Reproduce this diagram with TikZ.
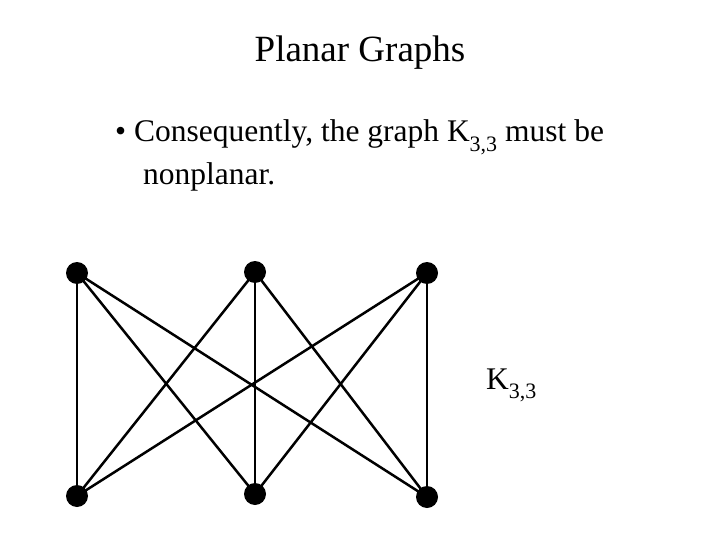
\documentclass[tikz,border=0pt]{standalone}
\usepackage{fontspec}
\setmainfont{Liberation Serif}
\newcommand{\lowsub}[1]{\raisebox{-0.3em}{\fontsize{22}{24}\selectfont #1}}
\begin{document}
\begin{tikzpicture}[x=1pt,y=-1pt,
  vtx/.style={circle,fill=black,inner sep=0pt,minimum size=22pt},
  edge/.style={line width=2.5pt}]
\useasboundingbox (0,0) rectangle (720,540);
\node[anchor=base] (title) at (360,62) {\fontsize{37}{40}\selectfont Planar Graphs};
\node[anchor=base west,inner sep=0pt] (l1) at (115,142) {\fontsize{31.5}{36}\selectfont • Consequently, the graph K\lowsub{3,3} must be};
\node[anchor=base west,inner sep=0pt] (l2) at (143,185) {\fontsize{31.5}{36}\selectfont nonplanar.};
\node[anchor=base west,inner sep=0pt] (lab) at (486,389) {\fontsize{31.5}{36}\selectfont K\lowsub{3,3}};
\node[vtx] (a1) at (77,273) {};
\node[vtx] (a2) at (255,272) {};
\node[vtx] (a3) at (427,273) {};
\node[vtx] (b1) at (77,496) {};
\node[vtx] (b2) at (255,494) {};
\node[vtx] (b3) at (427,497) {};
\foreach \a in {a1,a2,a3}
  \foreach \b in {b1,b2,b3}
    \draw[edge] (\a.center) -- (\b.center);
\end{tikzpicture}
\end{document}
